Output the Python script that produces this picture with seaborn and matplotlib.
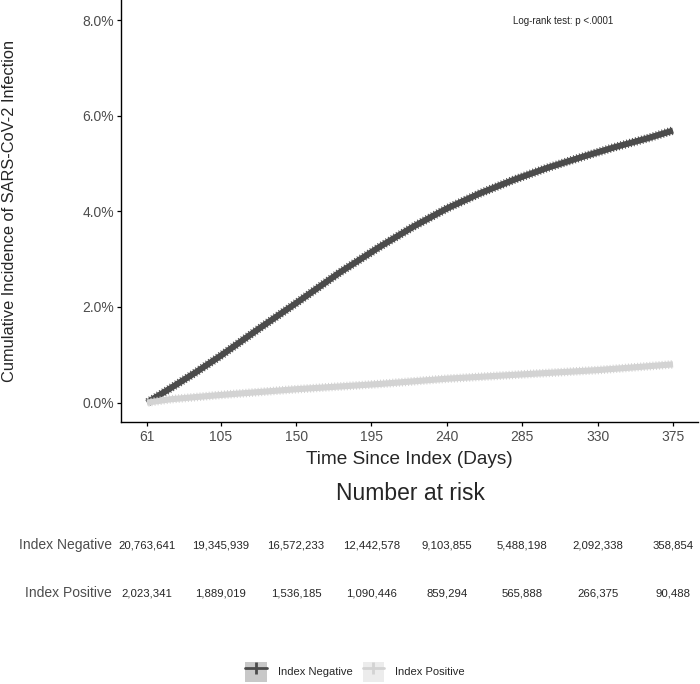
import numpy as np
import pandas as pd
import matplotlib
matplotlib.use("Agg")
import matplotlib.pyplot as plt
import matplotlib.transforms as mtransforms
import matplotlib.patheffects as pe
from matplotlib.lines import Line2D
from matplotlib.patches import Patch
from matplotlib.legend_handler import HandlerTuple
from matplotlib.ticker import PercentFormatter
import seaborn as sns

# cumulative incidence (%)
neg_days = [61, 75, 90, 105, 128, 150, 176, 200, 220, 240, 260, 280, 300, 320, 340, 360, 375]
neg_inc = [0.0, 0.30, 0.63, 0.98, 1.55, 2.08, 2.72, 3.26, 3.68, 4.06, 4.38, 4.66, 4.91, 5.13, 5.34, 5.53, 5.69]

pos_days = [61, 75, 105, 150, 200, 240, 285, 330, 375]
pos_inc = [0.0, 0.07, 0.16, 0.28, 0.39, 0.50, 0.59, 0.68, 0.80]

groups = ["Index Negative", "Index Positive"]
colors = ["#4b4b4b", "#d3d3d3"]
key_fill = ["#c8c8c8", "#ececec"]

# number at risk table
risk_days = [61, 105, 150, 195, 240, 285, 330, 375]
risk_neg = [20763641, 19345939, 16572233, 12442578, 9103855, 5488198, 2092338, 358854]
risk_pos = [2023341, 1889019, 1536185, 1090446, 859294, 565888, 266375, 90488]

df = pd.concat([
    pd.DataFrame({"day": neg_days, "inc": neg_inc, "group": groups[0]}),
    pd.DataFrame({"day": pos_days, "inc": pos_inc, "group": groups[1]}),
])

sns.set_style("ticks")
plt.rcParams["font.family"] = ["Liberation Sans", "DejaVu Sans"]

fig = plt.figure(figsize=(7, 6.84), dpi=100)
ax = fig.add_axes([121 / 700, 1 - 421.5 / 684, 577 / 700, 421.5 / 684])

sns.lineplot(data=df, x="day", y="inc", hue="group", hue_order=groups,
             palette=colors, estimator=None, lw=4.4, legend=False, ax=ax,
             solid_capstyle="butt")
# censor marks give the curves a ragged edge
for line in ax.get_lines():
    line.set_path_effects([
        pe.Normal(),
        pe.TickedStroke(angle=90, spacing=2.2, length=1.4, linewidth=0.7),
        pe.TickedStroke(angle=-90, spacing=2.2, length=1.4, linewidth=0.7),
    ])

ax.set_xlim(45.5, 389.9)
ax.set_ylim(-0.395, 8.42)
ax.set_xticks(risk_days)
ax.set_yticks([0, 2, 4, 6, 8])
ax.yaxis.set_major_formatter(PercentFormatter(xmax=100, decimals=1))
ax.tick_params(axis="both", labelsize=10, labelcolor="#4d4d4d", color="black",
               length=3, width=0.9)
ax.tick_params(axis="x", pad=3)
ax.tick_params(axis="y", pad=2)
for s in ["top", "right"]:
    ax.spines[s].set_visible(False)
for s in ["left", "bottom"]:
    ax.spines[s].set_linewidth(1.0)
    ax.spines[s].set_color("black")

ax.set_xlabel("Time Since Index (Days)", fontsize=13.7, labelpad=5)
ax.set_ylabel("Cumulative Incidence of SARS-CoV-2 Infection", fontsize=11.8)
ax.yaxis.set_label_coords(-(121 - 17) / 577, 0.5)
ax.text(563 / 700, 1 - 20.5 / 684, "Log-rank test: p <.0001", transform=fig.transFigure,
        ha="center", va="center", fontsize=7)

# risk table
fig.text(410 / 700, 1 - 493 / 684, "Number at risk", ha="center", va="center", fontsize=16.5)
tr = mtransforms.blended_transform_factory(ax.transData, fig.transFigure)
for label, counts, ypx in [(groups[0], risk_neg, 545), (groups[1], risk_pos, 593)]:
    fig.text(112 / 700, 1 - ypx / 684, label, ha="right", va="center",
             fontsize=10, color="#4d4d4d")
    for d, n in zip(risk_days, counts):
        fig.text(d, 1 - ypx / 684, f"{n:,}", transform=tr, ha="center", va="center",
                 fontsize=8.2)

# legend
handles = []
for c, f in zip(colors, key_fill):
    handles.append((Patch(facecolor=f, edgecolor="none"),
                    Line2D([], [], color=c, lw=2, marker="|", markersize=8, markeredgewidth=2)))
fig.legend(handles, groups, handler_map={tuple: HandlerTuple(ndivide=1, pad=0)},
           loc="center", bbox_to_anchor=(355 / 700, 1 - 672 / 684), ncol=2, frameon=False,
           fontsize=8, handlelength=1.95, handleheight=2.5, handletextpad=1.0,
           columnspacing=0.9, borderpad=0)

fig.savefig("out.png", dpi=100)
